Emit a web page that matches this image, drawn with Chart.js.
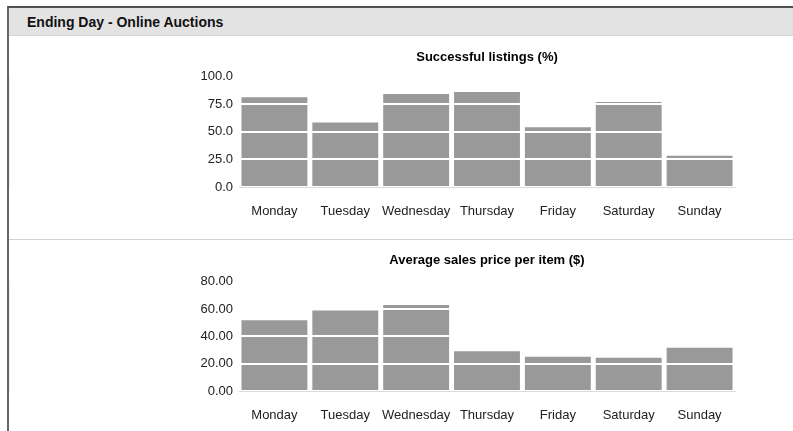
<!DOCTYPE html>
<html>
<head>
<meta charset="utf-8">
<title>Ending Day - Online Auctions</title>
<script src="https://cdn.jsdelivr.net/npm/chart.js@4/dist/chart.umd.min.js"></script>
<style>
  body { margin: 0; background: #fff; font-family: "Liberation Sans", Arial, sans-serif; }
  #frame { position: absolute; left: 7px; top: 6px; width: 786px; height: 425px;
           border-top: 2px solid #505050; border-left: 2px solid #666; }
  #header { position: absolute; left: 0; top: 0; width: 786px; height: 27px;
            background: #e3e3e3; border-bottom: 1px solid #d6d6d6; }
  #header span { position: absolute; left: 18px; top: 6px; font-weight: bold; font-size: 14px; color: #111; }
  #sep { position: absolute; left: 0; top: 231px; width: 786px; height: 1px; background: #d2d2d2; }
  canvas { position: absolute; left: 0; }
</style>
</head>
<body>
<div id="frame">
  <div id="header"><span>Ending Day - Online Auctions</span></div>
  <canvas id="listingsChart" width="784" height="203" style="top:28px"></canvas>
  <div id="sep"></div>
  <canvas id="priceChart" width="784" height="190" style="top:233px"></canvas>
</div>
<script>
const days = ['Monday', 'Tuesday', 'Wednesday', 'Thursday', 'Friday', 'Saturday', 'Sunday'];
const successRate = [81.3, 58.4, 84.3, 86.1, 54.2, 77.1, 28.3];
const avgPrice = [51.8, 58.8, 62.9, 29.0, 25.1, 24.4, 31.7];
const successTicks = [0, 25, 50, 75, 100];
const priceTicks = [0, 20, 40, 60, 80];

const font = 'Liberation Sans';

function barChart(id, title, values, ticks, decimals, pad) {
  return new Chart(document.getElementById(id), {
    type: 'bar',
    data: {
      labels: days,
      datasets: [{
        data: values,
        backgroundColor: '#999999',
        borderWidth: 0,
        barPercentage: 0.93,
        categoryPercentage: 1
      }]
    },
    options: {
      responsive: false,
      animation: false,
      layout: { padding: { left: 0, right: 58, top: 0, bottom: pad.bottom } },
      plugins: {
        legend: { display: false },
        tooltip: { enabled: false },
        title: {
          display: true,
          fullSize: false,
          text: title,
          color: '#000',
          font: { family: font, size: 13, weight: 'bold' },
          padding: { top: pad.titleTop, bottom: pad.titleBottom }
        }
      },
      scales: {
        x: {
          afterFit: s => { s.height = 33; },
          grid: { display: false, drawTicks: false, tickLength: 0 },
          border: { display: true, color: '#dcdcdc', width: 1 },
          ticks: {
            color: '#222',
            padding: 17,
            maxRotation: 0,
            minRotation: 0,
            autoSkip: false,
            font: { family: font, size: 13 }
          }
        },
        y: {
          min: ticks[0],
          max: ticks[ticks.length - 1],
          afterFit: s => { s.width = 230; },
          afterBuildTicks: s => { s.ticks = ticks.map(v => ({ value: v })); },
          grid: {
            z: 1,
            drawTicks: false,
            lineWidth: 2,
            color: c => c.tick && c.tick.value === 0 ? 'rgba(0,0,0,0)' : '#ffffff'
          },
          border: { display: true, color: '#dcdcdc', width: 1 },
          ticks: {
            color: '#222',
            padding: 6,
            font: { family: font, size: 13 },
            callback: v => Number(v).toFixed(decimals)
          }
        }
      }
    }
  });
}

barChart('listingsChart', 'Successful listings (%)', successRate, successTicks, 1,
  { titleTop: 14, titleBottom: 11, bottom: 19 });
barChart('priceChart', 'Average sales price per item ($)', avgPrice, priceTicks, 2,
  { titleTop: 12, titleBottom: 13, bottom: 7 });
</script>
</body>
</html>
